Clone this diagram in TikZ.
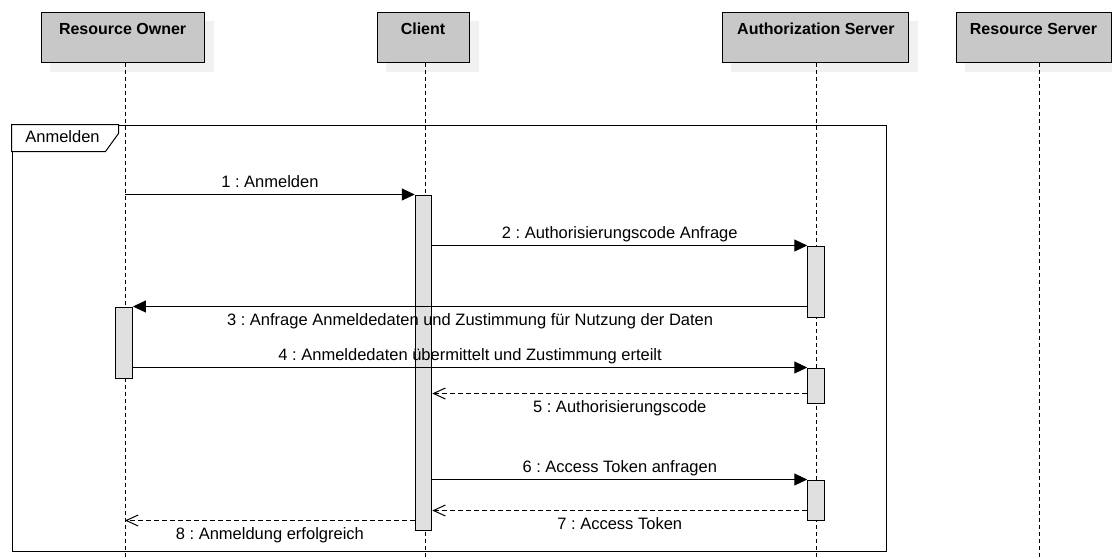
\documentclass[tikz,border=0pt]{standalone}
\usepackage{fontspec}
\setmainfont{Liberation Sans}
\usetikzlibrary{arrows.meta,calc,backgrounds}
\definecolor{headfill}{RGB}{200,200,200}
\definecolor{barfill}{RGB}{224,224,224}
\definecolor{shadowfill}{RGB}{241,241,241}
\frenchspacing
\begin{document}
\begin{tikzpicture}[x=1pt,y=-1pt,
  every node/.style={font=\fontsize{16.5}{19}\selectfont},
  headbox/.style={draw=black, line width=1pt, fill=headfill, inner sep=0pt, minimum height=50pt},
  headtext/.style={font=\fontsize{16}{19}\selectfont\bfseries, anchor=base, inner sep=0pt},
  lifeline/.style={line width=1pt, dash pattern=on 4pt off 3pt},
  actbar/.style={draw=black, line width=1pt, fill=barfill, inner sep=0pt, minimum width=16.5pt},
  call/.style={line width=1pt, -{Triangle[length=13pt,width=12pt]}},
  reply/.style={line width=1pt, dash pattern=on 5pt off 3pt, -{Straight Barb[length=12pt,width=11pt]}},
  lblup/.style={anchor=base, yshift=7.5pt, inner sep=0pt},
  lbldown/.style={anchor=base, yshift=-18.5pt, inner sep=0pt},
  shadow/.style={fill=shadowfill},
]
\useasboundingbox (0,0) rectangle (1112,558);

% header boxes
\node[headbox, minimum width=163pt] (ro) at (122.6,37) {};
\node[headbox, minimum width=92pt] (cl) at (423,37) {};
\node[headbox, minimum width=186pt] (as) at (815.9,37) {};
\node[headbox, minimum width=155pt] (rs) at (1033.5,37) {};
\begin{scope}[on background layer]
  \foreach \n in {ro,cl,as,rs}{
    \fill[shadow] ([shift={(9pt,-9pt)}]\n.south west) rectangle ([shift={(9pt,-9pt)}]\n.north east);
  }
\end{scope}
\node[headtext] (rot) at ([yshift=-23pt]ro.north) {Resource Owner};
\node[headtext] (clt) at ([yshift=-23pt]cl.north) {Client};
\node[headtext] (ast) at ([yshift=-23pt]as.north) {Authorization Server};
\node[headtext] (rst) at ([yshift=-23pt]rs.north) {Resource Server};

% lifelines
\coordinate (roX) at (125,558);
\coordinate (clX) at (425,558);
\coordinate (asX) at (816.5,558);
\coordinate (rsX) at (1039,558);
\draw[lifeline] (ro.south -| roX) -- (roX);
\draw[lifeline] (cl.south -| clX) -- (clX);
\draw[lifeline] (as.south -| asX) -- (asX);
\draw[lifeline] (rs.south -| rsX) -- (rsX);

% frame
\node[draw=black, line width=1pt, inner sep=0pt, minimum width=874pt, minimum height=426pt] (frame) at (449,338) {};
\draw[line width=1pt, fill=white] (frame.north west) -- ++(107,0) -- ++(0,9) -- ++(-13,18) -- ($(frame.north west)+(0,27)$) -- cycle;
\node[anchor=base, inner sep=0pt] (framelbl) at ($(frame.north west)+(51,18)$) {Anmelden};

% activation bars
\node[actbar, minimum height=335pt] (cb) at (423.5,362.5) {};
\node[actbar, minimum height=71pt] (as1) at (816,281.5) {};
\node[actbar, minimum height=71pt] (rob) at (124.2,342.5) {};
\node[actbar, minimum height=35pt] (as2) at (816,385.5) {};
\node[actbar, minimum height=40pt] (as3) at (816,500) {};

% messages
\draw[call] (roX |- cb.north) -- (cb.north west) node[midway, lblup] {1 : Anmelden};
\draw[call] (cb.north east |- as1.north) -- (as1.north west) node[midway, lblup] {2 : Authorisierungscode Anfrage};
\draw[call] (as1.west |- rob.north) -- (rob.north east) node[midway, lbldown] {3 : Anfrage Anmeldedaten und Zustimmung für Nutzung der Daten};
\draw[call] (rob.east |- as2.north) -- (as2.north west) node[midway, lblup] {4 : Anmeldedaten übermittelt und Zustimmung erteilt};
\coordinate (m5) at ([yshift=10pt]as2.south west);
\draw[reply] (m5) -- (cb.east |- m5) node[midway, lbldown] {5 : Authorisierungscode};
\draw[call] (cb.east |- as3.north) -- (as3.north west) node[midway, lblup] {6 : Access Token anfragen};
\coordinate (m7) at ([yshift=10pt]as3.south west);
\draw[reply] (m7) -- (cb.east |- m7) node[midway, lbldown] {7 : Access Token};
\coordinate (m8) at ([yshift=10pt]cb.south west);
\draw[reply] (m8) -- (roX |- m8) node[midway, lbldown] {8 : Anmeldung erfolgreich};
\end{tikzpicture}
\end{document}
